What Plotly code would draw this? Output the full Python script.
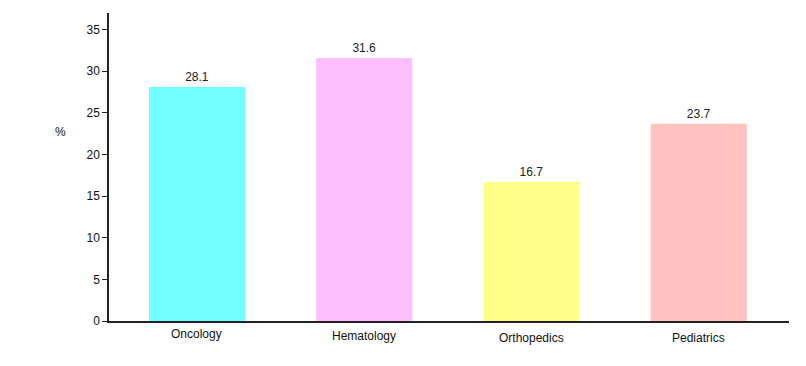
import plotly.graph_objects as go

categories = ["Oncology", "Hematology", "Orthopedics", "Pediatrics"]
values = [28.1, 31.6, 16.7, 23.7]
colors = ["#73FFFF", "#FFBFFF", "#FFFF88", "#FFC2BC"]
label_shift = [0, -2, -4, -4]

fig = go.Figure(go.Bar(
    x=list(range(len(categories))), y=values,
    marker=dict(color=colors, line=dict(width=0)),
    width=0.574,
    text=[f"{v:.1f}" for v in values], textposition="outside",
    textfont=dict(family="Liberation Sans, Arial", size=12, color="#222"),
    cliponaxis=False,
))

for i, c in enumerate(categories):
    fig.add_annotation(x=i, y=0, xref="x", yref="y", text=c, showarrow=False,
                       yanchor="top", yshift=-4 + label_shift[i],
                       font=dict(family="Liberation Sans, Arial", size=12, color="#111"))

fig.add_annotation(x=-0.072, y=0.614, xref="paper", yref="paper", text="%", showarrow=False,
                   xanchor="center", yanchor="middle",
                   font=dict(family="Liberation Sans, Arial", size=12, color="#111"))

fig.update_layout(
    width=806, height=366,
    margin=dict(l=101, r=25, t=5, b=53, autoexpand=False),
    plot_bgcolor="white", paper_bgcolor="white",
    showlegend=False,
    font=dict(family="Liberation Sans, Arial", size=12, color="#111"),
    xaxis=dict(range=[-0.526, 3.54], showticklabels=False, ticks="",
               showline=True, linecolor="#222", linewidth=1.5, showgrid=False, zeroline=False),
    yaxis=dict(range=[0, 37], tickvals=[0, 5, 10, 15, 20, 25, 30, 35], ticks="outside",
               ticklen=5, tickcolor="#222", showline=True, linecolor="#222", linewidth=1.5,
               showgrid=False, zeroline=False, tickfont=dict(size=12, color="#111")),
)

fig.write_html("out.html")
